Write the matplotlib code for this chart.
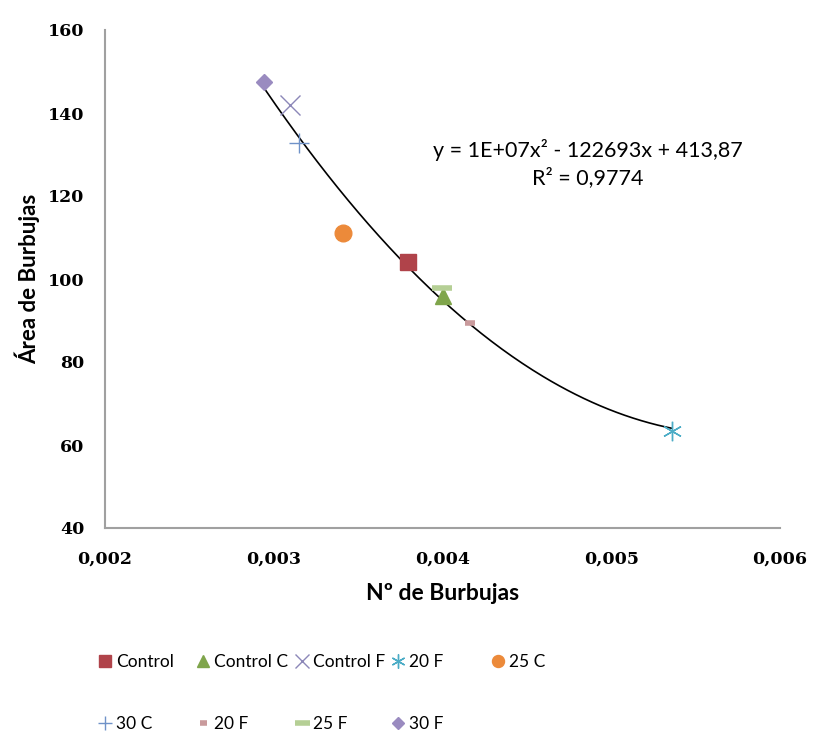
import numpy as np
import matplotlib.pyplot as plt

labels = ["Control", "Control C", "Control F", "20 F", "25 C",
          "30 C", "20 F", "25 F", "30 F"]
x_vals = [0.003796, 0.004003, 0.003096, 0.00536, 0.00341,
          0.00315, 0.004163, 0.003997, 0.002942]
y_vals = [104.0, 96.0, 141.9, 63.4, 111.0,
          132.7, 89.3, 97.8, 147.4]

styles = [
    dict(marker="s", color="#B0434A", ms=12),
    dict(marker="^", color="#7FA54B", ms=12),
    dict(marker="x", color="#8C87B8", ms=14, mew=1.0),
    dict(marker=(6, 2, 0), color="#4BACC6", ms=14, mew=1.0),
    dict(marker="o", color="#EC8A3A", ms=12),
    dict(marker="+", color="#6F92C8", ms=14, mew=1.0),
    dict(marker="_", color="#C99A9C", ms=7, mew=4),
    dict(marker="_", color="#B5CF95", ms=15, mew=4),
    dict(marker="D", color="#9A8BC0", ms=8.5),
]

plt.rcParams['font.family'] = ['Lato', 'DejaVu Sans']

fig = plt.figure(figsize=(8.13, 7.33), dpi=100)
ax = fig.add_axes([105 / 813, 1 - 528 / 733, (780 - 105) / 813, (528 - 30) / 733])

handles = []
for x, y, lab, st in zip(x_vals, y_vals, labels, styles):
    h, = ax.plot([x], [y], linestyle="none", label=lab, **st)
    handles.append(h)

# polynomial trendline (2nd order) like Excel
coef = np.polyfit(x_vals, y_vals, 2)
xs = np.linspace(min(x_vals), max(x_vals), 200)
ax.plot(xs, np.polyval(coef, xs), color="black", linewidth=1.2, zorder=1)

ax.text(0.7156, 0.732, "y = 1E+07x² - 122693x + 413,87\nR² = 0,9774",
        transform=ax.transAxes, ha="center", va="center", fontsize=15.5,
        linespacing=1.35)

ax.set_xlim(0.002, 0.006)
ax.set_ylim(40, 160)
ax.set_xticks([0.002, 0.003, 0.004, 0.005, 0.006])
ax.set_xticklabels(["0,002", "0,003", "0,004", "0,005", "0,006"])
ax.set_yticks([40, 60, 80, 100, 120, 140, 160])
ax.tick_params(axis="x", length=0, pad=16)
ax.tick_params(axis="y", length=0, pad=15)
for t in ax.get_xticklabels() + ax.get_yticklabels():
    t.set_fontfamily("DejaVu Serif")
    t.set_fontweight("bold")
    t.set_fontsize(12.5)

for s in ["top", "right"]:
    ax.spines[s].set_visible(False)
for s in ["left", "bottom"]:
    ax.spines[s].set_color("#A0A0A0")
    ax.spines[s].set_linewidth(1.5)

ax.set_xlabel("Nº de Burbujas", fontsize=16.5, fontweight="bold", labelpad=11)
ax.set_ylabel("Área de Burbujas", fontsize=16, fontweight="bold", labelpad=5)

# one legend per column so the columns sit at even spacing like Excel
columns = [[0, 5], [1, 6], [2, 7], [3, 8], [4]]
col_x = [96, 194, 293, 389, 489]
for idx, cx in zip(columns, col_x):
    fig.legend([handles[i] for i in idx], [labels[i] for i in idx],
               loc="upper left", bbox_to_anchor=(cx / 813, 1 - 654 / 733),
               ncol=1, frameon=False, fontsize=12.5, labelspacing=2.65,
               handlelength=1.0, handletextpad=0.15, borderpad=0,
               borderaxespad=0, markerscale=0.72)

fig.savefig("out.png", dpi=100, facecolor="white")
